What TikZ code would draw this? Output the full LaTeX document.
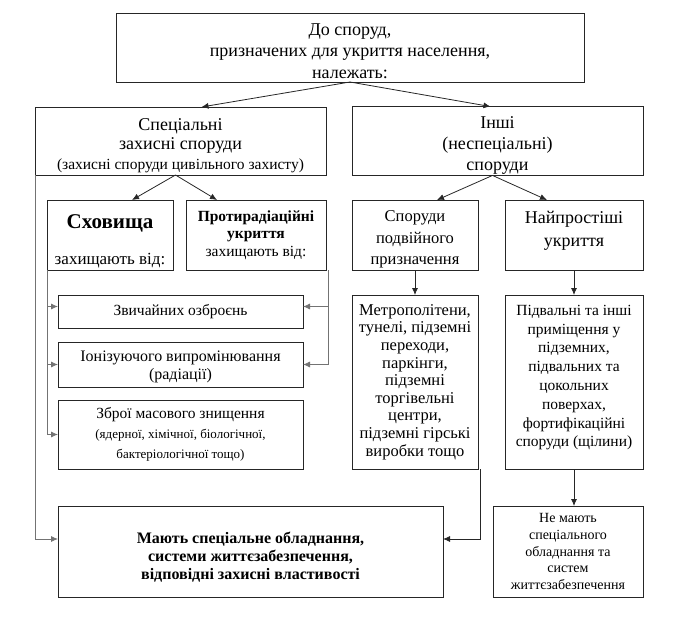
\documentclass[tikz,border=0pt]{standalone}
\usepackage{fontspec}
\setmainfont{Liberation Serif}
\usetikzlibrary{calc, arrows.meta, positioning}

\newcommand{\lift}[1]{\rule{0pt}{#1}}

\begin{document}
\begin{tikzpicture}[x=1pt, y=-1pt, every node/.style={outer sep=0pt}, >={Latex[length=7pt,width=6pt]}]
\tikzstyle{block}=[draw=black!85, line width=0.9pt, align=center, inner sep=1pt]
\tikzstyle{link}=[->, line width=0.8pt, black!85]
\tikzstyle{bus}=[->, line width=0.8pt, black!55]

\useasboundingbox (0,0) rectangle (675,623);

% upper levels
\node (top) [block, minimum width=468pt, minimum height=69pt, font=\fontsize{18}{21.5}\selectfont] at (350,47.5) {\lift{19pt}До споруд,\\ призначених для укриття населення,\\ належать:};

\node (spec) [block, minimum width=291pt, minimum height=68pt, font=\fontsize{18}{19.5}\selectfont] at (180.5,141) {\lift{21pt}Спеціальні\\ захисні споруди\\ \fontsize{15.5}{19.5}\selectfont (захисні споруди цивільного захисту)};
\node (inshi) [block, minimum width=291pt, minimum height=68pt, font=\fontsize{18}{21}\selectfont] at (497.5,141) {\lift{21pt}Інші\\ (неспеціальні)\\ споруди};

\node (shov) [block, minimum width=126pt, minimum height=70pt, font=\fontsize{17}{20}\selectfont] at (110,235) {\fontsize{21}{20}\selectfont\bfseries \lift{27pt}Сховища\\[16pt] захищають від:};
\node (protyrad) [block, minimum width=140pt, minimum height=70pt, font=\fontsize{15.5}{17.5}\selectfont] at (256,235) {\bfseries Протирадіаційні\\ \bfseries укриття\\ захищають від:};
\node (podviyn) [block, minimum width=126pt, minimum height=70pt, font=\fontsize{16.5}{21.5}\selectfont] at (415,235) {\lift{20pt}Споруди\\ подвійного\\ призначення};
\node (naiprost) [block, minimum width=138pt, minimum height=70pt, text depth=18pt, font=\fontsize{18}{23}\selectfont] at (574,235) {\lift{17pt}Найпростіші\\ укриття};

% what they protect from
\node (zvych) [block, minimum width=245pt, minimum height=33pt, font=\fontsize{15.5}{18}\selectfont] at (180.5,311.5) {Звичайних озброєнь};
\node (ioniz) [block, minimum width=245pt, minimum height=45pt, font=\fontsize{16}{18.5}\selectfont] at (180.5,364.5) {\lift{15pt}Іонізуючого випромінювання\\ (радіації)};
\node (zbroi) [block, minimum width=245pt, minimum height=69pt, font=\fontsize{15.5}{20}\selectfont] at (180.5,434.5) {Зброї масового знищення\\ \fontsize{13}{18}\selectfont (ядерної, хімічної, біологічної,\\ \fontsize{13}{18}\selectfont бактеріологічної тощо)};

\node (metro) [block, minimum width=126pt, minimum height=174pt, font=\fontsize{16.5}{17.6}\selectfont] at (415,382) {Метрополітени,\\ тунелі, підземні\\ переходи,\\ паркінги,\\ підземні\\ торгівельні\\ центри,\\ підземні гірські\\ виробки тощо};
\node (pidval) [block, minimum width=138pt, minimum height=174pt, text depth=12pt, font=\fontsize{15.5}{18.8}\selectfont] at (574,382) {Підвальні та інші\\ приміщення у\\ підземних,\\ підвальних та\\ цокольних\\ поверхах,\\ фортифікаційні\\ споруди (щілини)};

% results
\node (mayut) [block, minimum width=385pt, minimum height=91pt, font=\fontsize{16}{18}\selectfont\bfseries] at (250.5,551.5) {\lift{22pt}Мають спеціальне обладнання,\\ системи життєзабезпечення,\\ відповідні захисні властивості};
\node (nemayut) [block, minimum width=150pt, minimum height=91pt, font=\fontsize{14}{16.7}\selectfont] at (568,551.5) {Не мають\\ спеціального\\ обладнання та\\ систем\\ життєзабезпечення};

\coordinate (lbus) at (35,539);

\draw [link] (top.south) -- ($(spec.north)+(21,0)$);
\draw [link] (top.south) -- ($(inshi.north)+(-7,0)$);

\draw [link] ($(spec.south)+(-5,0)$) -- ($(shov.north)+(22,0)$);
\draw [link] ($(spec.south)+(-5,0)$) -- ($(protyrad.north)+(-39,0)$);
\draw [link] ($(inshi.south)+(-5,0)$) -- ($(podviyn.north)+(22,0)$);
\draw [link] ($(inshi.south)+(-5,0)$) -- ($(naiprost.north)+(-27,0)$);

\draw [link] (podviyn) -- (metro);
\draw [link] (naiprost) -- (pidval);
\draw [link] (pidval.south) -- (pidval.south |- nemayut.north);

\draw [bus] (shov.south west) |- ($(zvych.west)+(0,-5)$);
\draw [bus] (shov.south west) |- (ioniz.west);
\draw [bus] (shov.south west) |- (zbroi.west);
\draw [bus] ($(protyrad.south east)+(2,0)$) |- ($(zvych.east)+(0,-5)$);
\draw [bus] ($(protyrad.south east)+(2,0)$) |- (ioniz.east);

\draw [bus] (spec.south west) -- (lbus) -- (lbus -| mayut.west);
\draw [link] ($(metro.south east)+(2,0)$) |- (lbus -| mayut.east);

\end{tikzpicture}
\end{document}
